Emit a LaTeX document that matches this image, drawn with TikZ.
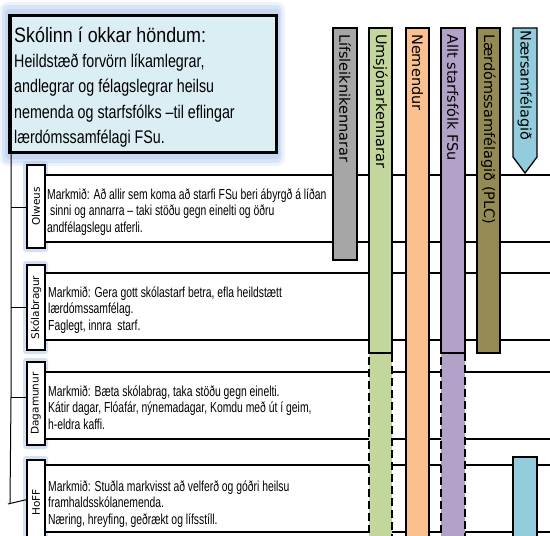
\documentclass[tikz,border=0pt]{standalone}
\usepackage{fontspec}
\setmainfont{Liberation Sans}
\newfontfamily\titlef[FakeStretch=0.86]{Liberation Sans}
\newfontfamily\bodyf[FakeStretch=0.78]{Liberation Sans}
\newfontfamily\rowf[FakeStretch=0.715]{Liberation Sans}
\newfontfamily\colf{DejaVu Sans}
\definecolor{glowblue}{HTML}{A9C3EA}
\definecolor{titlefill}{HTML}{DBEEF4}
\definecolor{cgray}{HTML}{A6A6A6}
\definecolor{cgreen}{HTML}{C3D69B}
\definecolor{corange}{HTML}{FAC090}
\definecolor{cpurple}{HTML}{B3A2C7}
\definecolor{colive}{HTML}{948A54}
\definecolor{cblue}{HTML}{93CDDD}
\tikzset{
  rowline/.style={draw=black, line width=1.5pt, fill=white},
  labelbox/.style={draw=black, line width=1.8pt, fill=white, rectangle, inner sep=0pt,
    rotate=90, font=\colf\fontsize{10.5}{12}\selectfont},
  bar/.style={draw=black, line width=1.3pt},
  dbar/.style={draw=black, line width=1.3pt, dash pattern=on 8pt off 4pt},
  coltext/.style={anchor=west, rotate=-90, inner sep=0pt, font=\colf\fontsize{14.5}{16}\selectfont},
  rowtext/.style={anchor=base west, inner sep=0pt, font=\rowf\fontsize{14.5}{16}\selectfont},
  bodytext/.style={anchor=base west, inner sep=0pt, font=\bodyf\fontsize{18.3}{20}\selectfont},
  conn/.style={draw=black, line width=1pt},
}
\begin{document}
\begin{tikzpicture}[x=1pt,y=-1pt]
\useasboundingbox (0,0) rectangle (550,536);
\clip (0,0) rectangle (550,536);

% glow around title box
\fill[glowblue, opacity=0.2, rounded corners=8pt] (0,2) rectangle (285,166);
\fill[glowblue, opacity=0.3, rounded corners=6pt] (2,5) rectangle (282,163);
\fill[glowblue, opacity=0.4, rounded corners=4pt] (5,9) rectangle (280,159);

% glow around label boxes
\foreach \a/\b in {165/248, 265/350, 362/445, 460/545}{
  \fill[glowblue, opacity=0.5, rounded corners=3pt] (23,\a-4) rectangle (48,\b+4);
}

% row boxes
\draw[rowline] (45,175) rectangle (560,242);
\draw[rowline] (45,273) rectangle (560,340);
\draw[rowline] (45,372) rectangle (560,439);
\draw[rowline] (45,465) rectangle (560,532);

% label boxes
\node[labelbox, minimum width=83pt, minimum height=18pt] (olweus) at (36,206.5) {Olweus};
\node[labelbox, minimum width=85pt, minimum height=18pt] (skola) at (36,307.5) {Skólabragur};
\node[labelbox, minimum width=83pt, minimum height=18pt] (daga) at (36,403.5) {Dagamunur};
\node[labelbox, minimum width=85pt, minimum height=18pt] (hoff) at (36,502.5) {HoFF};

% title box
\node[draw=black, line width=3.3pt, fill=titlefill, rectangle, inner sep=0pt,
      minimum width=266.5pt, minimum height=137pt] (title) at (143.25,84) {};

% trunk and branches
\coordinate (t0) at (11,154);
\coordinate (t1) at (11,207);
\coordinate (t2) at (11,307);
\coordinate (t3) at (11,397);
\coordinate (t4) at (10,503.5);
\coordinate (t5) at (8,504);
\draw[conn] (t0) -- (t1) -- (t2) -- (t3) -- (t4);
\draw[conn] (t1) -- (olweus.north |- t1);
\draw[conn] (t2) -- (skola.north |- t2);
\draw[conn] (t3) -- (daga.north |- t3);
\draw[conn] (t5) -- (27,499.5);

% column bars
\path[bar, fill=cgray] (333,28) rectangle (357,260);
\path[bar, fill=colive] (477,28) rectangle (500,353);
\path[bar, fill=corange] (406,28) rectangle (429,545);
% green: solid then dashed
\fill[cgreen] (369,353) rectangle (392,545);
\draw[dbar] (369,545) -- (369,353) -- (392,353) -- (392,545);
\path[bar, fill=cgreen] (369,28) rectangle (392,353);
% purple: solid then dashed
\fill[cpurple] (441,353) rectangle (465,545);
\draw[dbar] (441,545) -- (441,353) -- (465,353) -- (465,545);
\path[bar, fill=cpurple] (441,28) rectangle (465,353);
% blue arrow and lower bar
\path[bar, fill=cblue] (513,28) -- (537,28) -- (537,157) -- (525,173) -- (513,157) -- cycle;
\path[bar, fill=cblue] (513,457) rectangle (537,545);

% column labels
\node[coltext] (clifs) at (345,34) {Lífsleiknikennarar};
\node[coltext] (cumsj) at (380.5,34) {Umsjónarkennarar};
\node[coltext] (cnem) at (417.5,34) {Nemendur};
\node[coltext] (callt) at (453,34) {Allt starfsfólk FSu};
\node[coltext] (claer) at (488.5,34) {Lærdómssamfélagið (PLC)};
\node[coltext] (cnaer) at (525,30) {Nærsamfélagið};

% title text
\node[anchor=base west, inner sep=0pt, font=\titlef\fontsize{20.8}{24}\selectfont] (h0) at (14,42) {Skólinn í okkar höndum:};
\node[bodytext] (h1) at (14,67) {Heildstæð forvörn líkamlegrar,};
\node[bodytext] (h2) at (14,92.5) {andlegrar og félagslegrar heilsu};
\node[bodytext] (h3) at (14,118) {nemenda og starfsfólks –til eflingar};
\node[bodytext] (h4) at (14,143) {lærdómssamfélagi FSu.};

% row texts
\node[rowtext] (o1) at (47,199) {Markmið: Að allir sem koma að starfi FSu beri ábyrgð á líðan};
\node[rowtext] (o2) at (50,215.5) {sinni og annarra – taki stöðu gegn einelti og öðru};
\node[rowtext] (o3) at (47,232) {andfélagslegu atferli.};

\node[rowtext] (s1) at (48,297) {Markmið: Gera gott skólastarf betra, efla heildstætt};
\node[rowtext] (s2) at (48,313.5) {lærdómssamfélag.};
\node[rowtext] (s3) at (48,330) {Faglegt, innra\ \ starf.};

\node[rowtext] (d1) at (48,396) {Markmið: Bæta skólabrag, taka stöðu gegn einelti.};
\node[rowtext] (d2) at (48,412.5) {Kátir dagar, Flóafár, nýnemadagar, Komdu með út í geim,};
\node[rowtext] (d3) at (48,429) {h-eldra kaffi.};

\node[rowtext] (f1) at (48,491) {Markmið: Stuðla markvisst að velferð og góðri heilsu};
\node[rowtext] (f2) at (48,507.5) {framhaldsskólanemenda.};
\node[rowtext] (f3) at (48,524) {Næring, hreyfing, geðrækt og lífsstíll.};
\end{tikzpicture}
\end{document}
